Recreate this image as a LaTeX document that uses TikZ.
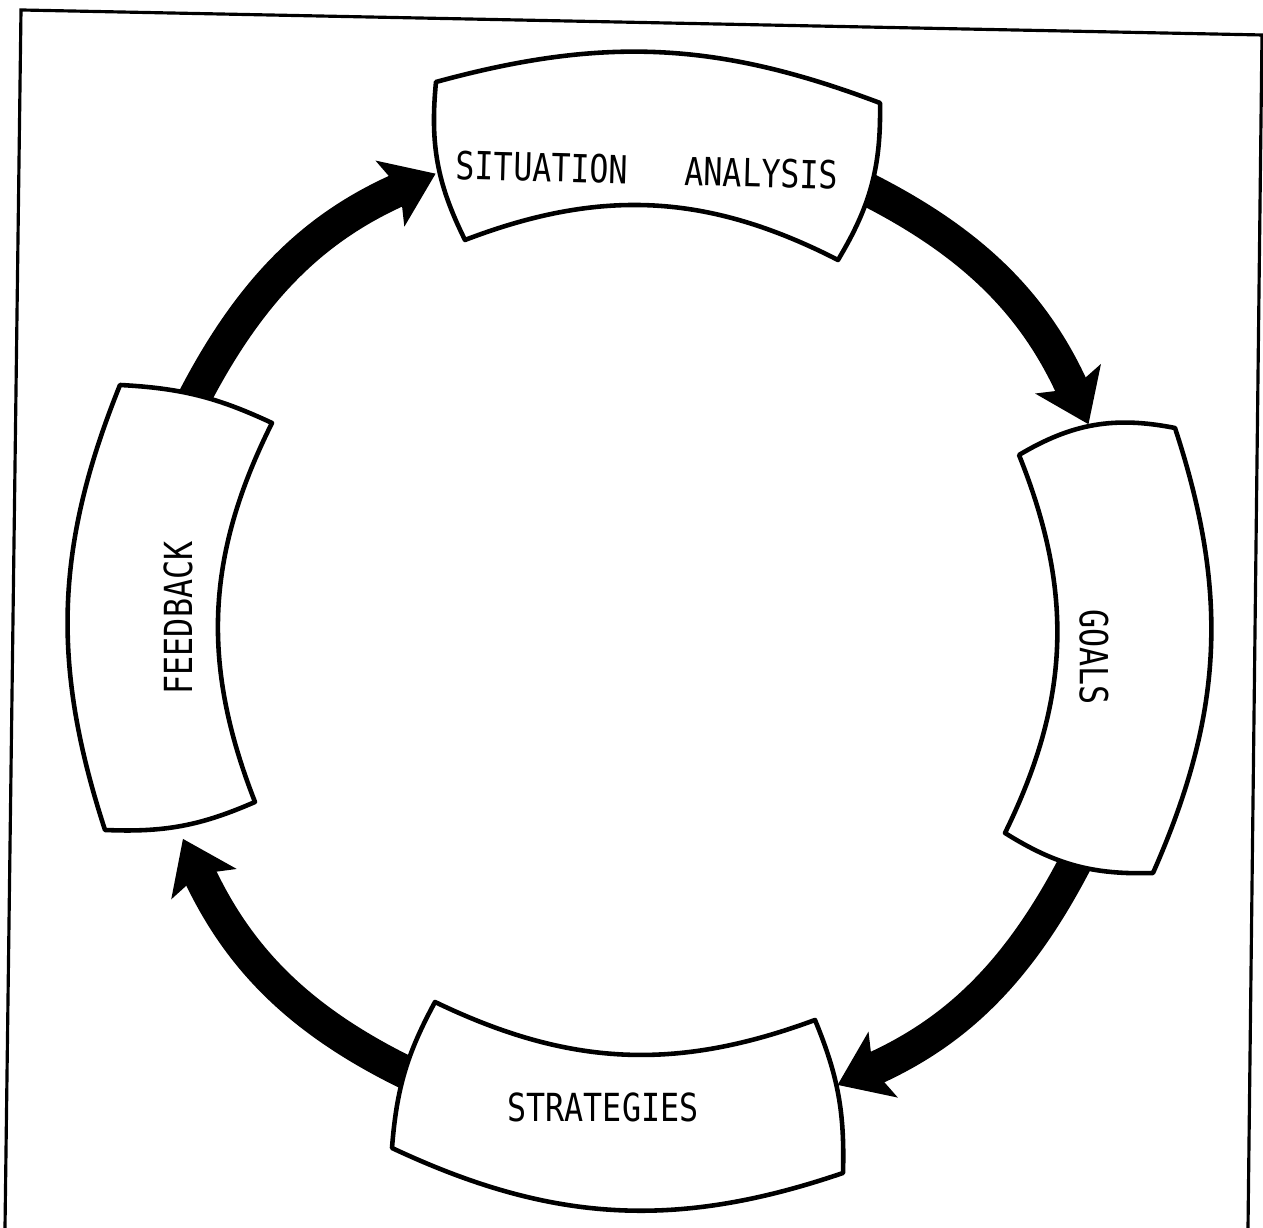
\documentclass[tikz,border=0pt]{standalone}
\usepackage{fontspec}
\usetikzlibrary{arrows.meta}
\newfontfamily\printfont{DejaVu Sans Mono}

\begin{document}
\begin{tikzpicture}[
    x=0.01cm, y=0.01cm,
    frame/.style={line width=0.9pt},
    box/.style={draw, fill=white, line width=1.3pt, line join=round},
    lbl/.style={font=\printfont\fontsize{11}{13}\selectfont, xscale=0.82, inner sep=0pt},
    flow/.style={line width=9.5pt, -{Stealth[length=14pt, width=20pt, inset=3pt]}}
]
    \useasboundingbox (0,0) rectangle (1263,1228);
    \draw[frame] (5,0) -- (21,1218) -- (1262,1193) -- (1248,0);

    % ring of arrows
    \coordinate (ring) at (635,598);
    \coordinate (sit-out) at ([shift={(64:498)}]ring);
    \coordinate (goal-in) at ([shift={(24.4:498)}]ring);
    \coordinate (goal-out) at ([shift={(-27:498)}]ring);
    \coordinate (strat-in) at ([shift={(-66:498)}]ring);
    \coordinate (strat-out) at ([shift={(-114:498)}]ring);
    \coordinate (feed-in) at ([shift={(-155.2:498)}]ring);
    \coordinate (feed-out) at ([shift={(153:498)}]ring);
    \coordinate (sit-in) at ([shift={(113.6:498)}]ring);

    \draw[flow] (sit-out) to[bend left=20] (goal-in);
    \draw[flow] (goal-out) to[bend left=19.5] (strat-in);
    \draw[flow] (strat-out) to[bend left=20.5] (feed-in);
    \draw[flow] (feed-out) to[bend left=19.7] (sit-in);

    % curved boxes
    \draw[box] (436,1146) to[bend left=18] (880,1125) to[bend left=16] (838,968)
        to[bend right=24] (465,988) to[bend left=16] (436,1146) -- cycle;
    \draw[box] (1019,773) to[bend left=21] (1175,800) to[bend left=21] (1153,355)
        to[bend left=17] (1005,395) to[bend right=24] (1019,773) -- cycle;
    \draw[box] (435,226) to[bend right=23] (815,208) to[bend left=12] (843,55)
        to[bend left=22] (392,80) to[bend left=12] (435,226) -- cycle;
    \draw[box] (120,843) to[bend left=11] (272,805) to[bend right=24] (255,426)
        to[bend left=13] (105,398) to[bend left=20] (120,843) -- cycle;

    \node[rotate=-1.5, lbl] (sit) at (647,1058) {SITUATION~~~ANALYSIS};
    \node[rotate=-90, lbl] (goal) at (1094,571) {GOALS};
    \node[lbl] (strat) at (603,121) {STRATEGIES};
    \node[rotate=90, lbl] (feed) at (178,610) {FEEDBACK};
\end{tikzpicture}
\end{document}
